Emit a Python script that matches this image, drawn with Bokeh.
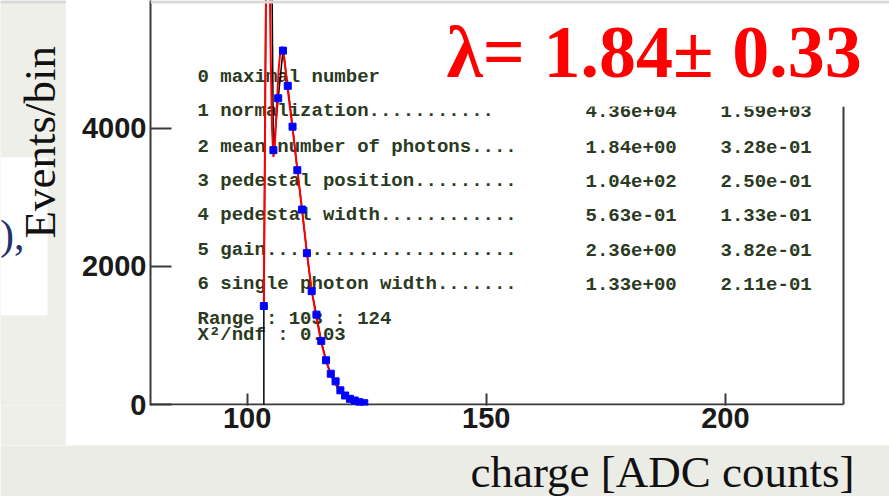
from math import pi

from bokeh.plotting import figure
from bokeh.layouts import column, row
from bokeh.models import Range1d, LinearAxis, FixedTicker, BoxAnnotation, Label
from bokeh.embed import file_html
from bokeh.resources import INLINE

# ---- data -------------------------------------------------------------
# charge histogram: bin centres [ADC counts] and entries per bin
bin_center = [103.5, 104.5, 105.5, 106.5, 107.5, 108.5, 109.5, 110.5, 111.5,
              112.5, 113.5, 114.5, 115.5, 116.5, 117.5, 118.5, 119.5, 120.5,
              121.5, 122.5, 123.5, 124.5]
counts = [1425, 12000, 3680, 4430, 5120, 4610, 4020, 3390, 2820,
          2190, 1640, 1300, 920, 640, 445, 335, 205, 130,
          82, 58, 33, 19]

# fitted photo-electron spectrum, sampled over the fit range
fit_x = [103.5, 103.8, 104.0, 104.3, 104.6, 104.9, 105.2, 105.5, 105.8,
         106.2, 106.6, 107.0, 107.4, 107.8, 108.5, 109.5, 110.5, 111.5,
         112.5, 113.5, 114.5, 115.5, 116.5, 117.5, 118.5, 119.5, 120.5,
         121.5, 122.5, 123.5, 124.0]
fit_y = [1425, 4500, 6500, 7600, 6800, 5200, 4000, 3580, 3750,
         4300, 4850, 5150, 5170, 5000, 4550, 4000, 3400, 2800,
         2200, 1650, 1250, 900, 630, 430, 290, 190, 120,
         75, 45, 27, 20]

x_ticks = [100, 150, 200]
y_ticks = [0, 2000, 4000]

# fit parameters shown in the statistics box
par_names = ["0 maximal number",
             "1 normalization...........",
             "2 mean number of photons....",
             "3 pedestal position.........",
             "4 pedestal width............",
             "5 gain......................",
             "6 single photon width......."]
par_values = ["", "4.36e+04", "1.84e+00", "1.04e+02", "5.63e-01", "2.36e+00", "1.33e+00"]
par_errors = ["", "1.59e+03", "3.28e-01", "2.50e-01", "1.33e-01", "3.82e-01", "2.11e-01"]
fit_range = "Range : 103 : 124"
chi2_text = "X\u00b2/ndf :   0.03"
lambda_text = "\u03bb= 1.84\u00b1 0.33"

# ---- page geometry (pixels) -------------------------------------------
W, H = 889, 496
LEFT_W = 66            # slide strip left of the ROOT canvas
CANVAS_H = 445         # ROOT canvas height; slide band below it
SLIDE = "#efefe9"
STRIP = "#d8d8d8"

# ---- main ROOT canvas ---------------------------------------------------
PX_PER_X = 693 / (224.7 - 79.8)      # pixels per ADC count
PX_PER_Y = 404 / 5845                # pixels per entry
FRAME_L, FRAME_R, FRAME_T, FRAME_B = 150, W, 0, 405   # page pixels
X_LO = 79.8
X_HI = X_LO + (FRAME_R - FRAME_L) / PX_PER_X
Y_HI = 404 / PX_PER_Y
Y_LO = Y_HI - (FRAME_B - FRAME_T) / PX_PER_Y

p = figure(width=W - LEFT_W, height=CANVAS_H, output_backend="svg",
           toolbar_location=None,
           x_range=Range1d(X_LO, X_HI), y_range=Range1d(Y_LO, Y_HI),
           x_axis_location=None, y_axis_location=None,
           min_border_left=FRAME_L - LEFT_W, min_border_right=0,
           min_border_top=0, min_border_bottom=CANVAS_H - FRAME_B,
           background_fill_color="white", border_fill_color="white",
           outline_line_color=None)
p.grid.grid_line_color = None


def sx(px):
    """page pixel column -> data x"""
    return X_LO + (px - FRAME_L) / PX_PER_X


def sy(py):
    """page pixel row -> data y"""
    return Y_HI - (py - FRAME_T) / PX_PER_Y


axis_style = dict(major_tick_line_width=2, major_tick_line_color="#3a3a3a",
                  major_tick_out=0, minor_tick_line_color=None,
                  major_label_text_font="Liberation Sans",
                  major_label_text_font_style="bold",
                  major_label_text_font_size="29px",
                  major_label_text_color="#1a1a1a")
xaxis = LinearAxis(ticker=FixedTicker(ticks=x_ticks), major_tick_in=12,
                   major_label_standoff=2, axis_line_color=None, **axis_style)
yaxis = LinearAxis(ticker=FixedTicker(ticks=y_ticks), major_tick_in=21,
                   major_label_standoff=4, axis_line_width=2,
                   axis_line_color="#3a3a3a", **axis_style)
p.add_layout(xaxis, "below")
p.add_layout(yaxis, "left")

# statistics box, drawn under the curves
mono = dict(text_font="Liberation Mono", text_font_style="bold",
            text_font_size="19px", text_color="#2b3a22",
            text_baseline="middle", text_align="left", level="underlay")
row_y = [76, 110, 146, 180, 214, 249, 283]
for name, val, err, ry in zip(par_names, par_values, par_errors, row_y):
    p.add_layout(Label(x=sx(197), y=sy(ry), text=name, **mono))
    if val:
        p.add_layout(Label(x=sx(585), y=sy(ry), text=val, **mono))
        p.add_layout(Label(x=sx(720), y=sy(ry), text=err, **mono))
p.add_layout(Label(x=sx(197), y=sy(318), text=fit_range, **mono))
p.add_layout(Label(x=sx(197), y=sy(334), text=chi2_text, **mono))

# frame: bottom edge and right edge (the right one stops below the banner)
frame_line = dict(line_color="#3a3a3a", line_width=2)
p.segment(x0=[X_LO], y0=[0], x1=[sx(843)], y1=[0], **frame_line)
p.segment(x0=[sx(843)], y0=[sy(106)], x1=[sx(843)], y1=[0], **frame_line)

# histogram drawn as a polyline, fit curve and data points
p.line([bin_center[0]] + bin_center, [0] + counts, line_color="black", line_width=1.5)
p.line(fit_x, fit_y, line_color="#ff0000", line_width=2)
p.scatter(bin_center, counts, marker="square", size=7, fill_color="#0000ff",
          line_color="#0000ff")

# result banner on a white patch, and the grey top edge of the slide
p.add_layout(BoxAnnotation(left=sx(432), right=X_HI, top=sy(3), bottom=sy(106),
                           fill_color="white", fill_alpha=1.0, line_color=None,
                           level="annotation"))
p.add_layout(Label(x=sx(446), y=sy(51.5), text=lambda_text,
                   text_font="Liberation Serif", text_font_style="bold",
                   text_font_size="74px", text_color="#ff0000",
                   text_align="left", text_baseline="middle",
                   level="annotation"))
p.add_layout(BoxAnnotation(left=X_LO, right=X_HI, top=Y_HI, bottom=sy(3),
                           fill_color=STRIP, fill_alpha=1.0, line_color=None,
                           level="annotation"))

# ---- slide strip on the left with the y title --------------------------
# its frame lines up with the main frame (page rows 0..405)
left = figure(width=LEFT_W, height=CANVAS_H, output_backend="svg",
              toolbar_location=None,
              x_range=Range1d(0, LEFT_W), y_range=Range1d(0, FRAME_B),
              x_axis_location=None, y_axis_location=None,
              min_border_left=0, min_border_right=0,
              min_border_top=0, min_border_bottom=CANVAS_H - FRAME_B,
              background_fill_color=SLIDE, border_fill_color=SLIDE,
              outline_line_color=None)
left.grid.grid_line_color = None


def ly(py):
    return FRAME_B - py


left.add_layout(BoxAnnotation(left=0, right=47, top=ly(157), bottom=ly(315),
                              fill_color="white", fill_alpha=1.0,
                              line_color=None, level="underlay"))
left.add_layout(BoxAnnotation(left=0, right=LEFT_W, top=ly(0), bottom=ly(3),
                              fill_color=STRIP, fill_alpha=1.0,
                              line_color=None, level="underlay"))
left.add_layout(Label(x=39, y=ly(238), text="Events/bin", angle=pi / 2,
                      text_font="Liberation Serif", text_font_size="45px",
                      text_color="#111111", text_align="left",
                      text_baseline="middle"))
left.add_layout(Label(x=24, y=ly(234.5), text="),",
                      text_font="Liberation Serif", text_font_size="42px",
                      text_color="#243070", text_align="right",
                      text_baseline="middle"))

# ---- slide band below with the x title ---------------------------------
BAND_H = H - CANVAS_H
bottom = figure(width=W, height=BAND_H, output_backend="svg",
                toolbar_location=None,
                x_range=Range1d(0, W), y_range=Range1d(0, BAND_H),
                x_axis_location=None, y_axis_location=None,
                min_border_left=0, min_border_right=0,
                min_border_top=0, min_border_bottom=0,
                background_fill_color="#ecece6", border_fill_color="#ecece6",
                outline_line_color=None)
bottom.grid.grid_line_color = None
bottom.add_layout(Label(x=470, y=H - 471, text="charge [ADC counts]",
                        text_font="Liberation Serif", text_font_size="45px",
                        text_color="#111111", text_align="left",
                        text_baseline="middle"))

page = column(row(left, p), bottom)
open("out.html", "w").write(file_html(page, INLINE))
